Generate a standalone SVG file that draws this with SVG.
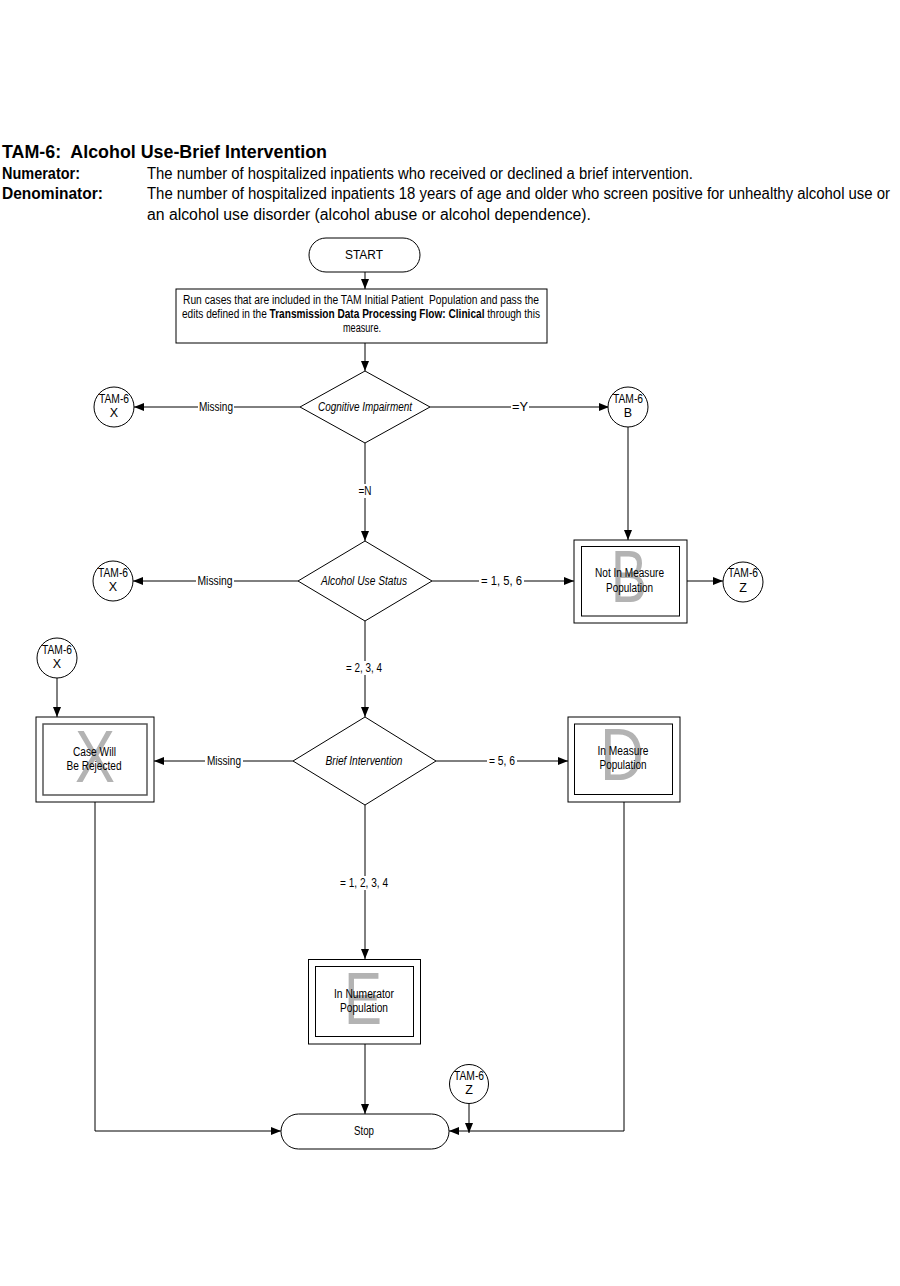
<svg xmlns="http://www.w3.org/2000/svg" width="900" height="1286" viewBox="0 0 900 1286">
<defs>
<marker id="ah" markerWidth="10" markerHeight="8" refX="10" refY="4" orient="auto" markerUnits="userSpaceOnUse">
<path d="M0,0 L10,4 L0,8 Z" fill="#000"/>
</marker>
</defs>
<style>
text{font-family:"Liberation Sans",Arial,sans-serif;fill:#000}
.hd{font-size:19px;font-weight:bold}
.lb{font-size:16px;font-weight:bold}
.tx{font-size:16px}
.n{font-size:12.5px;text-anchor:middle}
.i{font-style:italic}
.big{font-size:74px;fill:#b3b3b3}
.sh{fill:#fff;stroke:#000;stroke-width:1}
.c{fill:none;stroke:#000;stroke-width:1}
.lab{font-size:12.5px;text-anchor:middle}
.bg{fill:#fff;stroke:none}
</style>
<rect width="900" height="1286" fill="#fff"/>
<g id="header">
<text class="hd" x="2" y="158" textLength="325" lengthAdjust="spacingAndGlyphs">TAM-6:&#160; Alcohol Use-Brief Intervention</text>
<text class="lb" x="2" y="179" textLength="78" lengthAdjust="spacingAndGlyphs">Numerator:</text>
<text class="tx" x="147" y="179" textLength="546" lengthAdjust="spacingAndGlyphs">The number of hospitalized inpatients who received or declined a brief intervention.</text>
<text class="lb" x="2" y="199" textLength="101" lengthAdjust="spacingAndGlyphs">Denominator:</text>
<text class="tx" x="147" y="199" textLength="743" lengthAdjust="spacingAndGlyphs">The number of hospitalized inpatients 18 years of age and older who screen positive for unhealthy alcohol use or</text>
<text class="tx" x="147" y="220" textLength="444" lengthAdjust="spacingAndGlyphs">an alcohol use disorder (alcohol abuse or alcohol dependence).</text>
</g>
<g id="connectors">
<line class="c" x1="365" y1="272" x2="365" y2="289" marker-end="url(#ah)"/>
<line class="c" x1="365" y1="343" x2="365" y2="371" marker-end="url(#ah)"/>
<line class="c" x1="300" y1="407" x2="134" y2="407" marker-end="url(#ah)"/>
<line class="c" x1="430" y1="407" x2="609" y2="407" marker-end="url(#ah)"/>
<line class="c" x1="628" y1="427" x2="628" y2="540" marker-end="url(#ah)"/>
<line class="c" x1="365" y1="443" x2="365" y2="541" marker-end="url(#ah)"/>
<line class="c" x1="298" y1="581" x2="133" y2="581" marker-end="url(#ah)"/>
<line class="c" x1="432" y1="581" x2="574" y2="581" marker-end="url(#ah)"/>
<line class="c" x1="687" y1="581" x2="723" y2="581" marker-end="url(#ah)"/>
<line class="c" x1="365" y1="621" x2="365" y2="717" marker-end="url(#ah)"/>
<line class="c" x1="57" y1="678" x2="57" y2="717" marker-end="url(#ah)"/>
<line class="c" x1="293" y1="761" x2="154" y2="761" marker-end="url(#ah)"/>
<line class="c" x1="436" y1="761" x2="568" y2="761" marker-end="url(#ah)"/>
<line class="c" x1="365" y1="805" x2="365" y2="959" marker-end="url(#ah)"/>
<line class="c" x1="365" y1="1044" x2="365" y2="1114" marker-end="url(#ah)"/>
<polyline class="c" points="95,801 95,1131 281,1131" marker-end="url(#ah)"/>
<polyline class="c" points="624,801 624,1131 449,1131" marker-end="url(#ah)"/>
<line class="c" x1="469" y1="1103" x2="469" y2="1133" marker-end="url(#ah)"/>
<rect class="bg" x="198" y="400" width="36" height="14"/>
<text class="lab" x="216" y="411" textLength="34" lengthAdjust="spacingAndGlyphs">Missing</text>
<rect class="bg" x="511" y="400" width="18" height="14"/>
<text class="lab" x="520" y="411" textLength="16" lengthAdjust="spacingAndGlyphs">=Y</text>
<rect class="bg" x="356" y="484" width="18" height="14"/>
<text class="lab" x="365" y="495" textLength="13" lengthAdjust="spacingAndGlyphs">=N</text>
<rect class="bg" x="196" y="574" width="38" height="14"/>
<text class="lab" x="215" y="585" textLength="35" lengthAdjust="spacingAndGlyphs">Missing</text>
<rect class="bg" x="479" y="574" width="45" height="14"/>
<text class="lab" x="501.5" y="585" textLength="41" lengthAdjust="spacingAndGlyphs">= 1, 5, 6</text>
<rect class="bg" x="344" y="661" width="40" height="14"/>
<text class="lab" x="364" y="672" textLength="36" lengthAdjust="spacingAndGlyphs">= 2, 3, 4</text>
<rect class="bg" x="205" y="754" width="38" height="14"/>
<text class="lab" x="224" y="765" textLength="34" lengthAdjust="spacingAndGlyphs">Missing</text>
<rect class="bg" x="487" y="754" width="30" height="14"/>
<text class="lab" x="502" y="765" textLength="26" lengthAdjust="spacingAndGlyphs">= 5, 6</text>
<rect class="bg" x="338" y="876" width="52" height="14"/>
<text class="lab" x="364" y="887" textLength="48" lengthAdjust="spacingAndGlyphs">= 1, 2, 3, 4</text>
</g>
<g id="start">
<rect class="sh" x="309" y="238" width="111" height="34" rx="17"/>
<text class="n" x="364" y="259" textLength="38" lengthAdjust="spacingAndGlyphs">START</text>
</g>
<g id="run">
<rect class="sh" x="176" y="289" width="371" height="54" stroke-width="2"/>
<text class="n" x="361" y="304" textLength="356" lengthAdjust="spacingAndGlyphs">Run cases that are included in the TAM Initial Patient&#160; Population and pass the</text>
<text class="n" x="361" y="318" textLength="358" lengthAdjust="spacingAndGlyphs">edits defined in the <tspan font-weight="bold">Transmission Data Processing Flow: Clinical</tspan> through this</text>
<text class="n" x="362" y="332" textLength="38" lengthAdjust="spacingAndGlyphs">measure.</text>
</g>
<g id="cognitive">
<polygon class="sh" points="365,371 430,407 365,443 300,407"/>
<text class="n i" x="365" y="411" textLength="94" lengthAdjust="spacingAndGlyphs">Cognitive Impairment</text>
</g>
<g id="conn-x1">
<circle class="sh" cx="114" cy="407" r="20"/>
<text class="n" x="114" y="403" textLength="30" lengthAdjust="spacingAndGlyphs">TAM-6</text>
<text class="n" x="114" y="417">X</text>
</g>
<g id="conn-b">
<circle class="sh" cx="628" cy="407" r="20"/>
<text class="n" x="628" y="403" textLength="30" lengthAdjust="spacingAndGlyphs">TAM-6</text>
<text class="n" x="628" y="417">B</text>
</g>
<g id="alcohol">
<polygon class="sh" points="365,541 432,581 365,621 298,581"/>
<text class="n i" x="364" y="585" textLength="86" lengthAdjust="spacingAndGlyphs">Alcohol Use Status</text>
</g>
<g id="conn-x2">
<circle class="sh" cx="113" cy="581" r="20"/>
<text class="n" x="113" y="577" textLength="30" lengthAdjust="spacingAndGlyphs">TAM-6</text>
<text class="n" x="113" y="591">X</text>
</g>
<g id="box-b">
<rect class="sh" x="574" y="540" width="113" height="83"/>
<rect class="sh" x="581.5" y="546.5" width="98" height="69.5"/>
<text class="big" x="611" y="602" textLength="36" lengthAdjust="spacingAndGlyphs">B</text>
<text class="n" x="629.5" y="577" textLength="69" lengthAdjust="spacingAndGlyphs">Not In Measure</text>
<text class="n" x="629.5" y="592" textLength="47" lengthAdjust="spacingAndGlyphs">Population</text>
</g>
<g id="conn-z1">
<circle class="sh" cx="743" cy="582" r="20"/>
<text class="n" x="743" y="577" textLength="30" lengthAdjust="spacingAndGlyphs">TAM-6</text>
<text class="n" x="743" y="592">Z</text>
</g>
<g id="conn-x3">
<circle class="sh" cx="57" cy="658" r="20"/>
<text class="n" x="57" y="654" textLength="30" lengthAdjust="spacingAndGlyphs">TAM-6</text>
<text class="n" x="57" y="668">X</text>
</g>
<g id="box-x">
<rect class="sh" x="36" y="717" width="118" height="85"/>
<rect x="43" y="724" width="104" height="71" fill="#fff" stroke="#555" stroke-width="1.5"/>
<text class="big" x="75" y="782" textLength="40" lengthAdjust="spacingAndGlyphs">X</text>
<text class="n" x="94.5" y="756" textLength="43" lengthAdjust="spacingAndGlyphs">Case Will</text>
<text class="n" x="94" y="770" textLength="55" lengthAdjust="spacingAndGlyphs">Be Rejected</text>
</g>
<g id="brief">
<polygon class="sh" points="365,717 436,761 365,805 293,761"/>
<text class="n i" x="364" y="765" textLength="77" lengthAdjust="spacingAndGlyphs">Brief Intervention</text>
</g>
<g id="box-d">
<rect class="sh" x="568" y="717" width="112" height="85"/>
<rect class="sh" x="574.5" y="724" width="98" height="70.5"/>
<text class="big" x="600" y="780" textLength="44" lengthAdjust="spacingAndGlyphs">D</text>
<text class="n" x="623" y="755" textLength="51" lengthAdjust="spacingAndGlyphs">In Measure</text>
<text class="n" x="623" y="769" textLength="47" lengthAdjust="spacingAndGlyphs">Population</text>
</g>
<g id="box-e">
<rect class="sh" x="308.5" y="959.5" width="112" height="84.5"/>
<rect class="sh" x="315.5" y="966.5" width="98" height="70"/>
<text class="big" x="344" y="1024" textLength="38" lengthAdjust="spacingAndGlyphs">E</text>
<text class="n" x="364" y="998" textLength="60" lengthAdjust="spacingAndGlyphs">In Numerator</text>
<text class="n" x="364" y="1012" textLength="48" lengthAdjust="spacingAndGlyphs">Population</text>
</g>
<g id="conn-z2">
<circle class="sh" cx="469" cy="1084" r="19.5"/>
<text class="n" x="469" y="1080" textLength="30" lengthAdjust="spacingAndGlyphs">TAM-6</text>
<text class="n" x="469" y="1094">Z</text>
</g>
<g id="stop">
<rect class="sh" x="281" y="1114" width="168" height="35" rx="17.5"/>
<text class="n" x="364" y="1135" textLength="20" lengthAdjust="spacingAndGlyphs">Stop</text>
</g>
</svg>
